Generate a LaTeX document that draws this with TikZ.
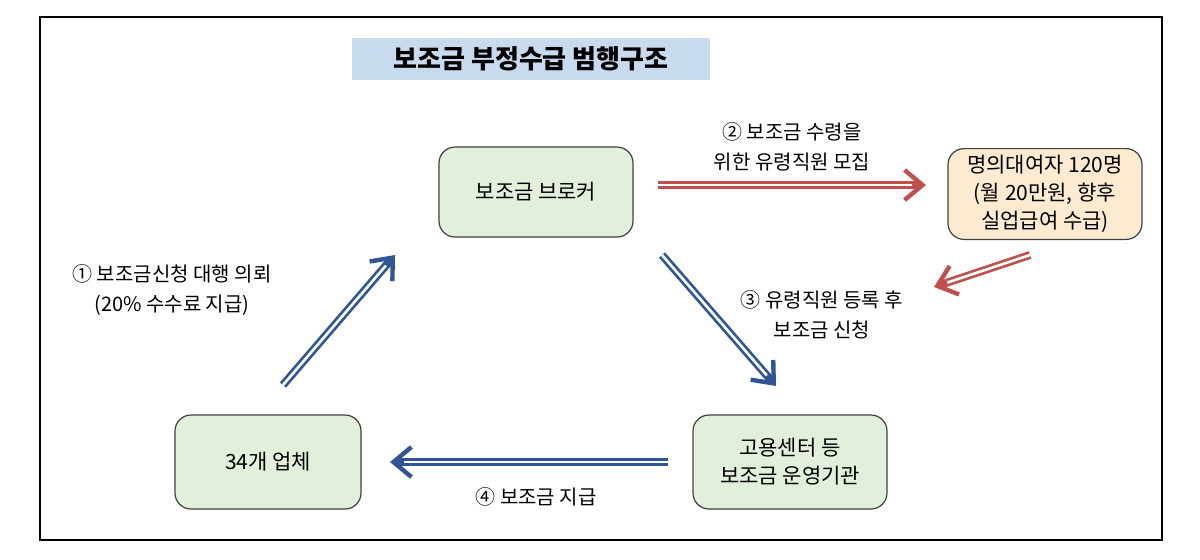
\documentclass[tikz,border=0pt]{standalone}
\usepackage{fontspec}
\setmainfont{Noto Sans CJK KR}
\usetikzlibrary{arrows.meta}
\definecolor{rd}{RGB}{192,80,77}
\definecolor{bl}{RGB}{47,85,151}
\definecolor{gr}{RGB}{226,239,218}
\definecolor{ye}{RGB}{252,235,208}
\definecolor{tb}{RGB}{200,218,238}
\begin{document}
\begin{tikzpicture}[x=0.5pt,y=-0.5pt,
 box/.style={draw=black!75,line width=0.6pt,rounded corners=8pt,font=\fontsize{10.5}{14}\selectfont,align=center},
 lbl/.style={font=\fontsize{10}{15}\selectfont,align=center},
 ar/.style={line width=4pt,-{Straight Barb[length=9pt,width=15pt,line width=2.2pt]}}]
\useasboundingbox (0,0) rectangle (1200,559);
\draw[line width=0.6pt] (40,17) rectangle (1162,540);
\node[fill=tb,minimum width=179pt,minimum height=21pt,font=\bfseries\fontsize{13}{15}\selectfont] (t) at (531,59) {보조금 부정수급 범행구조};
\node[box,fill=gr,minimum width=97pt,minimum height=45pt] (b) at (536,192) {보조금 브로커};
\node[box,fill=ye,minimum width=97pt,minimum height=44pt] (m) at (1045,194) {명의대여자 120명\\(월 20만원, 향후\\실업급여 수급)};
\node[box,fill=gr,minimum width=93pt,minimum height=47pt] (c) at (268,462) {34개 업체};
\node[box,fill=gr,minimum width=97pt,minimum height=47pt] (g) at (790,462) {고용센터 등\\보조금 운영기관};
\coordinate (a2s) at (658,185); \coordinate (a2e) at (926,185);
\coordinate (a3s) at (1030,255); \coordinate (a3e) at (934,287);
\coordinate (abs) at (662,255); \coordinate (abe) at (776,386);
\coordinate (a1s) at (283,385); \coordinate (a1e) at (395,255);
\coordinate (a4s) at (668,462); \coordinate (a4e) at (390,462);
\foreach \s/\e/\c in {a2s/a2e/rd,a3s/a3e/rd,abs/abe/bl,a1s/a1e/bl,a4s/a4e/bl}{
 \draw[ar,\c] (\s) -- (\e);
 \draw[white,line width=1.3pt,shorten >=7pt] (\s) -- (\e);
}
\node[lbl] (l2) at (792,147) {② 보조금 수령을\\위한 유령직원 모집};
\node[lbl] (l3) at (822,315) {③ 유령직원 등록 후\\보조금 신청};
\node[lbl] (l1) at (172,290) {① 보조금신청 대행 의뢰\\(20\% 수수료 지급)};
\node[lbl] (l4) at (536,497) {④ 보조금 지급};
\end{tikzpicture}
\end{document}
